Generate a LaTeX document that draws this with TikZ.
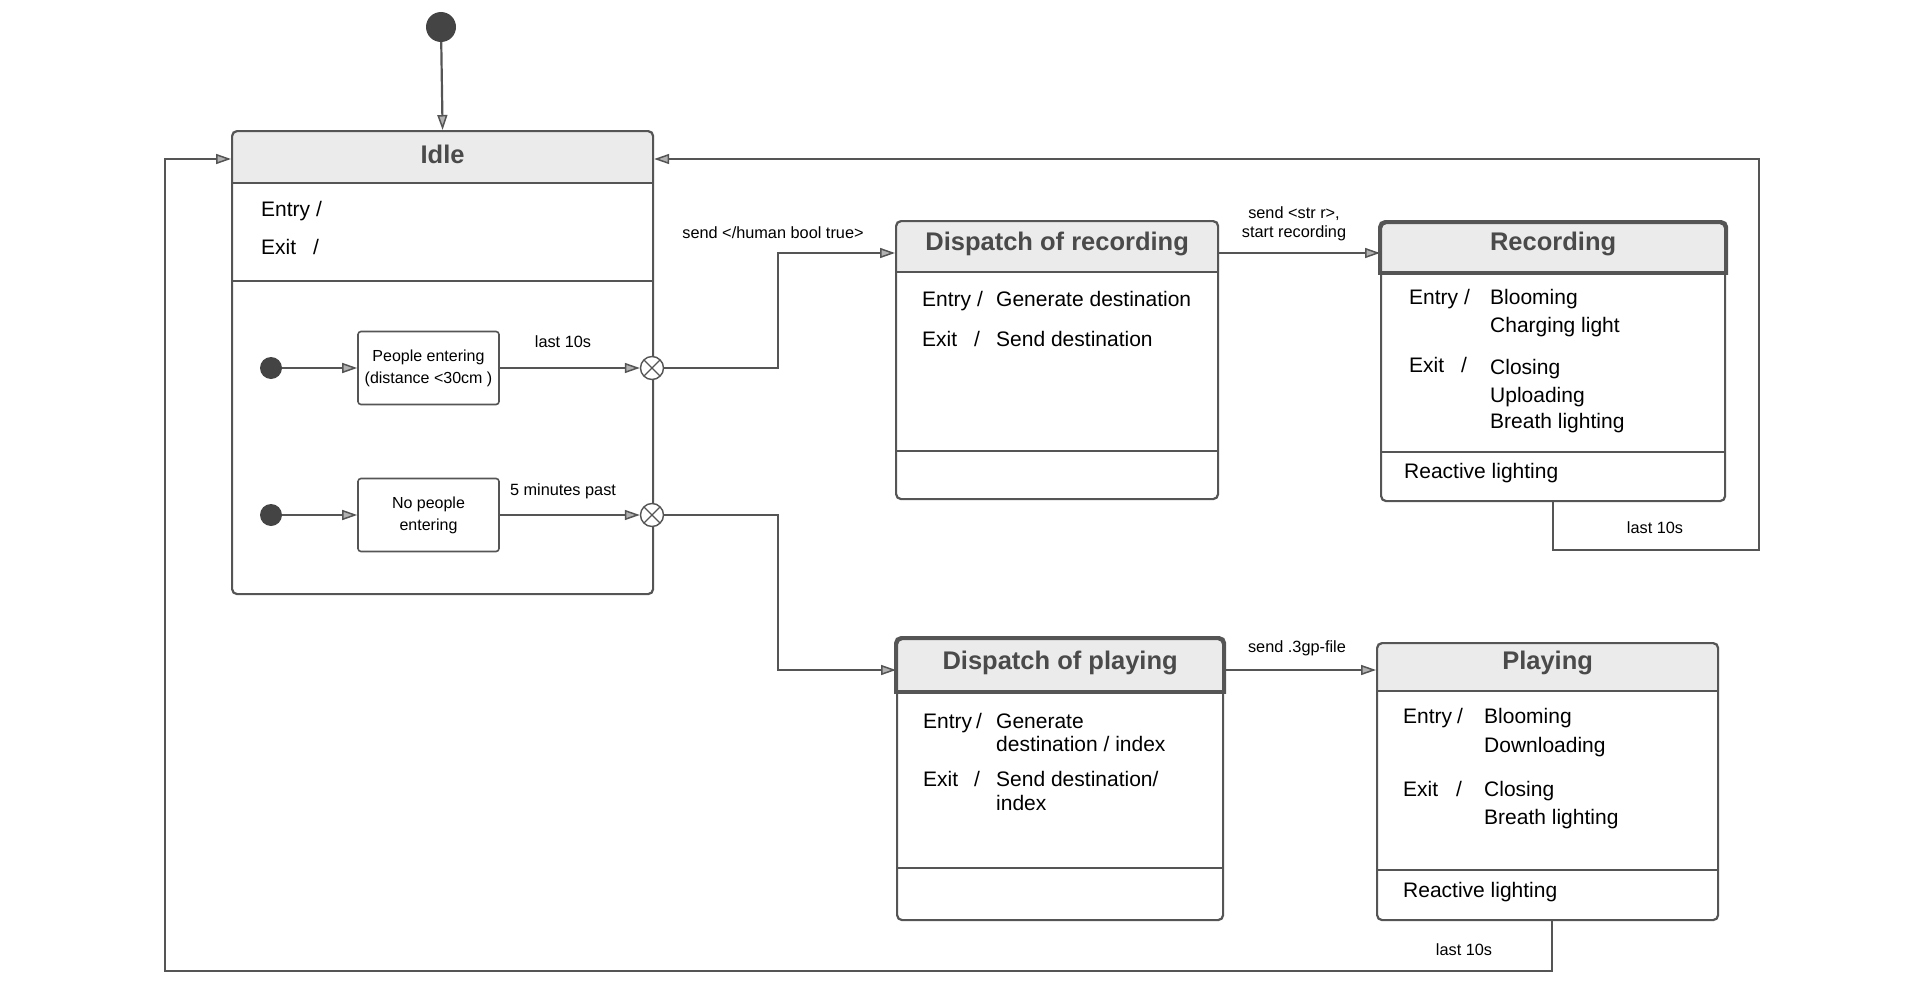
\documentclass[tikz,border=0pt]{standalone}
\usepackage{fontspec}
\setmainfont{Liberation Sans}
\usetikzlibrary{arrows.meta,backgrounds,positioning}

\definecolor{umlline}{HTML}{555555}
\definecolor{headgray}{HTML}{EBEBEB}
\definecolor{titlegray}{HTML}{4A4A4A}
\definecolor{dotgray}{HTML}{444444}

\tikzset{
    state/.style = {draw = umlline, line width = 2.2pt, rounded corners = 5pt,
        anchor = north west, inner sep = 0pt},
    substate/.style = {draw = umlline, line width = 1.6pt, rounded corners = 3pt,
        minimum width = 141pt, minimum height = 73pt, inner sep = 0pt,
        align = center, font = \fontsize{16}{22}\selectfont},
    title/.style = {font = \bfseries\fontsize{25.5}{30}\selectfont, text = titlegray},
    act/.style = {font = \fontsize{21}{24}\selectfont, anchor = base west, inner sep = 0pt},
    slash/.style = {font = \fontsize{21}{24}\selectfont, anchor = base, inner sep = 0pt},
    lbl/.style = {font = \fontsize{16.3}{19}\selectfont, align = center, inner sep = 0pt},
    dot/.style = {circle, fill = dotgray, inner sep = 0pt, minimum size = #1},
    junction/.style = {circle, draw = umlline, fill = white, line width = 1.4pt,
        minimum size = 23pt, inner sep = 0pt,
        path picture = {\draw[umlline, line width = 1.2pt]
            (path picture bounding box.north west) -- (path picture bounding box.south east)
            (path picture bounding box.north east) -- (path picture bounding box.south west);}},
    link/.style = {draw = umlline, line width = 2.2pt},
    flow/.style = {link, -{Triangle[length = 15pt, width = 10pt, fill = gray!60, line width = 1.5pt]}}
}

% grey header of a state: node, height of the header, extra options
\newcommand{\statehead}[3][]{%
    \begin{scope}[on background layer]
        \path[fill = headgray, #1] ([yshift = -15pt]#2.north west) [rounded corners = 5pt]
            -- (#2.north west) -- (#2.north east) -- ([yshift = -15pt]#2.north east)
            [sharp corners] -- ([yshift = -#3]#2.north east) -- ([yshift = -#3]#2.north west) -- cycle;
    \end{scope}
    \draw[link] ([yshift = -#3]#2.north west) -- ([yshift = -#3]#2.north east);}

\begin{document}
\begin{tikzpicture}[x = 1pt, y = -1pt]
    \useasboundingbox (0, 0) rectangle (1920, 990);
    %\draw[lightgray] (0, 0) grid[step = 100] (1920, 990);

    % states
    \node[state, minimum width = 421pt, minimum height = 463pt] (idle) at (231, 130) {};
    \node[state, minimum width = 322pt, minimum height = 278pt] (disrec) at (895, 220) {};
    \node[state, minimum width = 344pt, minimum height = 278pt] (rec) at (1380, 222) {};
    \node[state, minimum width = 326pt, minimum height = 281pt] (displ) at (896, 638) {};
    \node[state, minimum width = 341pt, minimum height = 277pt] (play) at (1376, 642) {};

    \statehead{idle}{53pt}
    \statehead{disrec}{52pt}
    \statehead[draw = umlline, line width = 3.8pt]{rec}{51pt}
    \statehead[draw = umlline, line width = 3.8pt]{displ}{54pt}
    \statehead{play}{49pt}

    \draw[link] ([yshift = -151pt]idle.north west) -- ([yshift = -151pt]idle.north east);
    \draw[link] ([yshift = -231pt]disrec.north west) -- ([yshift = -231pt]disrec.north east);
    \draw[link] ([yshift = -230pt]rec.north west) -- ([yshift = -230pt]rec.north east);
    \draw[link] ([yshift = -230pt]displ.north west) -- ([yshift = -230pt]displ.north east);
    \draw[link] ([yshift = -228pt]play.north west) -- ([yshift = -228pt]play.north east);

    \node[title] (idle-t) at ([yshift = -24pt]idle.north) {Idle};
    \node[title] (disrec-t) at ([yshift = -24pt]disrec.north) {Dispatch of recording};
    \node[title] (rec-t) at ([yshift = -22pt]rec.north) {Recording};
    \node[title] (displ-t) at ([yshift = -25pt]displ.north) {Dispatch of playing};
    \node[title] (play-t) at ([yshift = -21pt]play.north) {Playing};

    % Idle
    \node[act] (idle-en) at (261, 216) {Entry};
    \node[slash] (idle-ens) at (319, 216) {/};
    \node[act] (idle-ex) at (261, 254) {Exit};
    \node[slash] (idle-exs) at (316, 254) {/};

    \node[dot = 30pt] (init) at (441, 27) {};
    \node[dot = 22pt] (d1) at (271, 368) {};
    \node[dot = 22pt] (d2) at (271, 515) {};
    \node[substate] (pe) at (428.5, 368) {People entering\\(distance <30cm )};
    \node[substate] (npe) at (428.5, 515) {No people\\entering};
    \node[junction] (j1) at (652, 368) {};
    \node[junction] (j2) at (652, 515) {};

    % Dispatch of recording
    \node[act] (disrec-en) at (922, 306) {Entry};
    \node[slash] (disrec-ens) at (980, 306) {/};
    \node[act] (disrec-env) at (996, 306) {Generate destination};
    \node[act] (disrec-ex) at (922, 346) {Exit};
    \node[slash] (disrec-exs) at (977, 346) {/};
    \node[act] (disrec-exv) at (996, 346) {Send destination};

    % Recording
    \node[act] (rec-en) at (1409, 304) {Entry};
    \node[slash] (rec-ens) at (1467, 304) {/};
    \node[act] (rec-env1) at (1490, 304) {Blooming};
    \node[act] (rec-env2) at (1490, 332) {Charging light};
    \node[act] (rec-ex) at (1409, 372) {Exit};
    \node[slash] (rec-exs) at (1464, 372) {/};
    \node[act] (rec-exv1) at (1490, 374) {Closing};
    \node[act] (rec-exv2) at (1490, 402) {Uploading};
    \node[act] (rec-exv3) at (1490, 428) {Breath lighting};
    \node[act] (rec-do) at (1404, 478) {Reactive lighting};

    % Dispatch of playing
    \node[act] (displ-en) at (923, 728) {Entry};
    \node[slash] (displ-ens) at (979, 728) {/};
    \node[act] (displ-env1) at (996, 728) {Generate};
    \node[act] (displ-env2) at (996, 751) {destination / index};
    \node[act] (displ-ex) at (923, 786) {Exit};
    \node[slash] (displ-exs) at (977, 786) {/};
    \node[act] (displ-exv1) at (996, 786) {Send destination/};
    \node[act] (displ-exv2) at (996, 810) {index};

    % Playing
    \node[act] (play-en) at (1403, 723) {Entry};
    \node[slash] (play-ens) at (1460, 723) {/};
    \node[act] (play-env1) at (1484, 723) {Blooming};
    \node[act] (play-env2) at (1484, 752) {Downloading};
    \node[act] (play-ex) at (1403, 796) {Exit};
    \node[slash] (play-exs) at (1459, 796) {/};
    \node[act] (play-exv1) at (1484, 796) {Closing};
    \node[act] (play-exv2) at (1484, 824) {Breath lighting};
    \node[act] (play-do) at (1403, 897) {Reactive lighting};

    % transitions
    \coordinate (lowleft) at (165, 971);
    \draw[flow] (init) -- (idle.north);
    \draw[flow] (d1) -- (pe);
    \draw[flow] (d2) -- (npe);
    \draw[flow] (pe) -- (j1);
    \draw[flow] (npe) -- (j2);
    \draw[flow] (j1.east) -- ++(114, 0) |- ([yshift = -33pt]disrec.north west);
    \draw[flow] (j2.east) -- ++(114, 0) |- ([yshift = -32pt]displ.north west);
    \draw[flow] ([yshift = -33pt]disrec.north east) -- ([yshift = -31pt]rec.north west);
    \draw[flow] ([yshift = -32pt]displ.north east) -- ([yshift = -28pt]play.north west);
    \draw[flow] (rec.south) |- ++(206, 48) |- ([yshift = -29pt]idle.north east);
    \draw[flow] ([xshift = 4pt]play.south) |- (lowleft) |- ([yshift = -29pt]idle.north west);

    \node[lbl] (l-pe) at (563, 342) {last 10s};
    \node[lbl] (l-npe) at (563, 491) {5 minutes past};
    \node[lbl] (l-human) at (773, 233) {send </human bool true>};
    \node[lbl] (l-str) at (1294, 224) {send <str r>,\\start recording};
    \node[lbl] (l-3gp) at (1297, 648) {send .3gp-file};
    \node[lbl] (l-rec) at (1655, 528) {last 10s};
    \node[lbl] (l-play) at (1464, 950) {last 10s};
\end{tikzpicture}
\end{document}
